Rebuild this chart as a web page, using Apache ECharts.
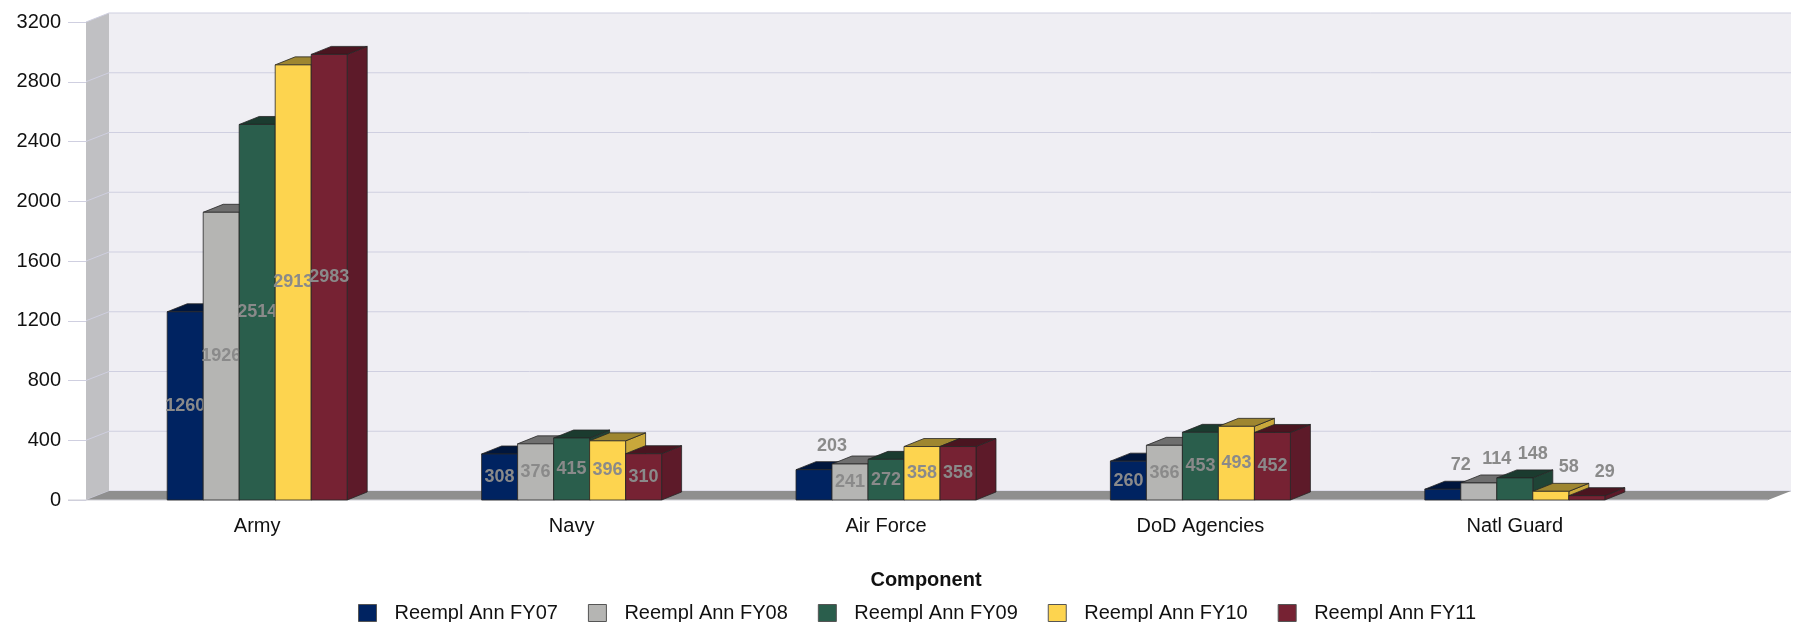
<!DOCTYPE html>
<html>
<head>
<meta charset="utf-8">
<script src="https://cdn.jsdelivr.net/npm/echarts@6/dist/echarts.min.js"></script>
<style>html,body{margin:0;padding:0;background:#fff;}#c{width:1798px;height:622px;}</style>
</head>
<body>
<div id="c"></div>
<script>
// ---- data ----
var categories = ['Army', 'Navy', 'Air Force', 'DoD Agencies', 'Natl Guard'];
var seriesNames = ['Reempl Ann FY07', 'Reempl Ann FY08', 'Reempl Ann FY09', 'Reempl Ann FY10', 'Reempl Ann FY11'];
var fy07 = [1260, 308, 203, 260, 72];
var fy08 = [1926, 376, 241, 366, 114];
var fy09 = [2514, 415, 272, 453, 148];
var fy10 = [2913, 396, 358, 493, 58];
var fy11 = [2983, 310, 358, 452, 29];
var yTicks = [0, 400, 800, 1200, 1600, 2000, 2400, 2800, 3200];
var allSeries = [fy07, fy08, fy09, fy10, fy11];

// ---- styles ----
var FRONT = ['#002361', '#b5b5b3', '#2a5e4c', '#fdd44f', '#762233'];
var TOP = ['#00163d', '#6f6f6f', '#1b3b2f', '#9e8630', '#4a1520'];
var SIDE = ['#001a48', '#8c8c8c', '#1f4436', '#c9a83b', '#5d1a29'];
var FONT = "'Liberation Sans', Arial, sans-serif";

var chart = echarts.init(document.getElementById('c'), null, {renderer: 'canvas'});

function wallRender(params, api) {
  var cs = params.coordSys;
  var L = cs.x, R = cs.x + cs.width, T = cs.y, B = cs.y + cs.height;
  var dx = 23, dy = -9;
  var ch = [];
  ch.push({type: 'rect', shape: {x: L + dx, y: T + dy, width: R - L, height: B - T}, style: {fill: '#efeef3'}});
  ch.push({type: 'polygon', shape: {points: [[L, T], [L + dx, T + dy], [L + dx, B + dy], [L, B]]}, style: {fill: '#c0c0c3'}});
  yTicks.forEach(function (v) {
    var y = api.coord([0, v])[1];
    ch.push({type: 'polyline', shape: {points: [[L, y], [L + dx, y + dy], [R + dx, y + dy]]},
      style: {stroke: '#cfcfe0', lineWidth: 1, fill: null}});
  });
  ch.push({type: 'polygon', shape: {points: [[L, B], [L + dx, B + dy], [R + dx, B + dy], [R, B]]}, style: {fill: '#8f8f8f'}});
  ch.push({type: 'line', shape: {x1: L - 18, y1: B, x2: R, y2: B}, style: {stroke: '#cfcfd6', lineWidth: 1}});
  return {type: 'group', children: ch};
}

function makeBarRender(i) {
  return function (params, api) {
    var cat = api.value(0), val = api.value(1);
    var top = api.coord([cat, val]);
    var base = api.coord([cat, 0]);
    var band = api.size([1, 0])[0];
    var w = band * 0.1145;
    var x0 = top[0] + (i - 2.5) * w, x1 = x0 + w;
    var yT = top[1], yB = base[1];
    var dx = 20, dy = -8;
    var stroke = '#262626';
    var ch = [];
    ch.push({type: 'polygon', shape: {points: [[x1, yT], [x1 + dx, yT + dy], [x1 + dx, yB + dy], [x1, yB]]},
      style: {fill: SIDE[i], stroke: stroke, lineWidth: 0.8}});
    ch.push({type: 'polygon', shape: {points: [[x0, yT], [x0 + dx, yT + dy], [x1 + dx, yT + dy], [x1, yT]]},
      style: {fill: TOP[i], stroke: stroke, lineWidth: 0.8}});
    ch.push({type: 'rect', shape: {x: x0, y: yT, width: w, height: yB - yT},
      style: {fill: FRONT[i], stroke: stroke, lineWidth: 0.8}});
    var h = yB - yT;
    var lx, ly;
    if (h < 33) { lx = x1; ly = yT - 24; } else { lx = (x0 + x1) / 2; ly = (yT + yB) / 2; }
    ch.push({type: 'text', z2: 100, style: {x: lx, y: ly, text: String(val), align: 'center', verticalAlign: 'middle',
      fill: '#8a8a8a', font: 'bold 18px ' + FONT}});
    return {type: 'group', children: ch};
  };
}

var series = [{
  type: 'custom', name: 'walls', xAxisIndex: 0, yAxisIndex: 0, z: 1, silent: true,
  renderItem: wallRender, data: [[0, 0]]
}];
allSeries.forEach(function (arr, i) {
  series.push({
    type: 'custom', name: seriesNames[i], xAxisIndex: 1, yAxisIndex: 1, z: 10 + i,
    itemStyle: {color: FRONT[i]},
    renderItem: makeBarRender(i),
    encode: {x: 0, y: 1},
    data: arr.map(function (v, k) { return [k, v]; })
  });
});

chart.setOption({
  animation: false,
  backgroundColor: '#ffffff',
  textStyle: {fontFamily: FONT},
  grid: [
    {left: 86, right: 30, top: 22, bottom: 122},
    {left: 100, right: 126, top: 22, bottom: 122}
  ],
  xAxis: [
    {gridIndex: 0, type: 'value', min: 0, max: 1, show: false},
    {gridIndex: 1, type: 'category', data: categories,
      axisLine: {show: false}, axisTick: {show: false},
      axisLabel: {fontSize: 20, color: '#111', margin: 16, fontFamily: FONT}}
  ],
  yAxis: [
    {gridIndex: 0, type: 'value', min: 0, max: 3200, interval: 400,
      axisLine: {show: false}, splitLine: {show: false},
      axisTick: {show: true, length: 18, lineStyle: {color: '#cfcfe0'}},
      axisLabel: {fontSize: 20, color: '#111', margin: 25, fontFamily: FONT,
        formatter: function (v) { return String(v); }}},
    {gridIndex: 1, type: 'value', min: 0, max: 3200, interval: 400, show: false}
  ],
  legend: {
    data: seriesNames.map(function (n, i) {
      return {name: n, icon: 'rect', itemStyle: {color: FRONT[i], borderColor: '#555', borderWidth: 1}};
    }),
    left: 358, top: 603, padding: 0, itemWidth: 18, itemHeight: 17, itemGap: 30,
    textStyle: {fontSize: 20, color: '#111', fontFamily: FONT, padding: [0, 0, 0, 13]}
  },
  graphic: [{
    type: 'text', x: 926, y: 580,
    style: {text: 'Component', align: 'center', verticalAlign: 'middle', font: 'bold 20px ' + FONT, fill: '#111'}
  }],
  series: series
});
</script>
</body>
</html>
